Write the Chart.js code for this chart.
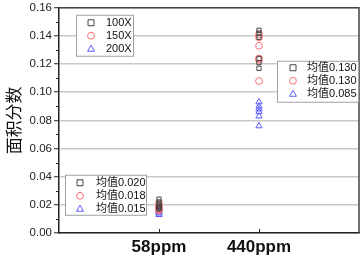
<!DOCTYPE html>
<html><head><meta charset="utf-8">
<script src="https://cdn.jsdelivr.net/npm/chart.js@4/dist/chart.umd.min.js"></script>
<style>html,body{margin:0;padding:0;background:#fff}#wrap{width:364px;height:262px}</style>
</head><body><div id="wrap"><canvas id="c" width="364" height="262"></canvas></div>
<script>
const categories = ['58ppm', '440ppm'];
const seriesNames = ['100X', '150X', '200X'];
const s100 = [[0.024, 0.022, 0.020, 0.019, 0.018, 0.017], [0.144, 0.142, 0.139, 0.124, 0.121, 0.117]];
const s150 = [[0.021, 0.019, 0.018, 0.017, 0.016, 0.017], [0.141, 0.139, 0.133, 0.124, 0.123, 0.108]];
const s200 = [[0.016, 0.015, 0.014, 0.015, 0.013, 0.016], [0.093, 0.090, 0.088, 0.086, 0.083, 0.076]];
const means58 = ['0.020', '0.018', '0.015'];
const means440 = ['0.130', '0.130', '0.085'];
const yTicks = [0, 0.02, 0.04, 0.06, 0.08, 0.10, 0.12, 0.14, 0.16];

const colors = ['#444444', '#ff7070', '#5a5aff'];
const styles = ['rect', 'circle', 'triangle'];
const radii = [3, 3.4, 3.6];

function toPts(s) {
  const out = [];
  s.forEach((vals, i) => vals.forEach(v => out.push({x: i + 1, y: v})));
  return out;
}
const all = [s100, s150, s200];

function drawMarker(ctx, style, color, x, y, r) {
  ctx.save();
  ctx.strokeStyle = color; ctx.lineWidth = 1;
  ctx.beginPath();
  if (style === 'rect') { ctx.rect(x - r, y - r, 2 * r, 2 * r); }
  else if (style === 'circle') { ctx.arc(x, y, r, 0, Math.PI * 2); }
  else { ctx.moveTo(x, y - r); ctx.lineTo(x + r * 0.95, y + r * 0.7); ctx.lineTo(x - r * 0.95, y + r * 0.7); ctx.closePath(); }
  ctx.stroke();
  ctx.restore();
}

function drawLegend(ctx, box, labels) {
  ctx.save();
  ctx.fillStyle = '#fff';
  ctx.strokeStyle = '#a0a0a0'; ctx.lineWidth = 1;
  ctx.fillRect(box.x, box.y, box.w, box.h);
  ctx.strokeRect(box.x + 0.5, box.y + 0.5, box.w, box.h);
  ctx.font = '11px "Liberation Sans", "Noto Sans CJK SC", sans-serif';
  ctx.textBaseline = 'middle'; ctx.textAlign = 'left'; ctx.fillStyle = '#111';
  labels.forEach((t, i) => {
    const yy = box.y + box.rowTop + i * box.rowH;
    drawMarker(ctx, styles[i], colors[i], box.mx, yy, radii[i]);
    ctx.fillText(t, box.tx, yy);
  });
  ctx.restore();
}

const decor = {
  id: 'decor',
  beforeDatasetsDraw(chart) {
    const {ctx, chartArea: a, scales: {x, y}} = chart;
    ctx.save();
    ctx.strokeStyle = '#222'; ctx.lineWidth = 1;
    for (let i = 0; i < yTicks.length - 1; i++) {
      const v = (yTicks[i] + yTicks[i + 1]) / 2;
      const py = Math.round(y.getPixelForValue(v)) + 0.5;
      ctx.beginPath(); ctx.moveTo(a.left - 3, py); ctx.lineTo(a.left, py); ctx.stroke();
    }
    categories.forEach((c, i) => {
      const px = Math.round(x.getPixelForValue(i + 1)) + 0.5;
      ctx.beginPath(); ctx.moveTo(px, a.bottom); ctx.lineTo(px, a.bottom - 4); ctx.stroke();
    });
    ctx.strokeStyle = '#444'; ctx.lineWidth = 1.5;
    ctx.beginPath(); ctx.moveTo(a.left, a.top); ctx.lineTo(a.right, a.top); ctx.lineTo(a.right, a.bottom); ctx.stroke();
    ctx.restore();
  },
  afterDatasetsDraw(chart) {
    const {ctx, chartArea: a} = chart;
    drawLegend(ctx, {x: a.left + 17, y: a.top + 7, w: 57, h: 41, rowTop: 8, rowH: 13, mx: a.left + 32, tx: a.left + 47}, seriesNames);
    drawLegend(ctx, {x: a.left + 218, y: a.top + 53, w: 81, h: 41, rowTop: 7, rowH: 13, mx: a.left + 234, tx: a.left + 248}, means440.map(m => '均值' + m));
    drawLegend(ctx, {x: a.left + 6, y: a.top + 167, w: 81, h: 40, rowTop: 8, rowH: 13, mx: a.left + 21, tx: a.left + 37}, means58.map(m => '均值' + m));
  }
};

new Chart(document.getElementById('c'), {
  type: 'scatter',
  data: {
    datasets: all.map((s, k) => ({
      label: seriesNames[k],
      data: toPts(s),
      pointStyle: styles[k],
      pointRadius: radii[k],
      pointBorderWidth: 1,
      borderColor: colors[k],
      backgroundColor: 'rgba(0,0,0,0)'
    }))
  },
  options: {
    responsive: false,
    animation: false,
    layout: {padding: {left: 0, right: 4, top: 0, bottom: 5}},
    plugins: {legend: {display: false}, tooltip: {enabled: false}},
    scales: {
      x: {
        type: 'linear', min: 0, max: 3,
        afterBuildTicks(s) { s.ticks = categories.map((c, i) => ({value: i + 1})); },
        afterFit(s) { s.height = 24; },
        ticks: {
          callback(v) { return categories[v - 1]; },
          font: {family: '"Liberation Sans", Arial, sans-serif', size: 17, weight: 'bold', lineHeight: 1},
          color: '#111', padding: 6, maxRotation: 0
        },
        grid: {display: false, drawTicks: false},
        border: {display: true, color: '#222', width: 1.5}
      },
      y: {
        min: 0, max: 0.16,
        afterBuildTicks(s) { s.ticks = yTicks.map(v => ({value: v})); },
        afterFit(s) { s.width = 59; },
        ticks: {
          callback(v) { return v.toFixed(2); },
          font: {family: '"Liberation Sans", Arial, sans-serif', size: 11.5, lineHeight: 1},
          color: '#222', padding: 2
        },
        grid: {color: '#c8c8c8', lineWidth: 1.5, tickColor: '#222', tickLength: 5, tickWidth: 1},
        border: {display: true, color: '#222', width: 1.5},
        title: {
          display: true, text: '面积分数',
          font: {family: '"Noto Sans CJK SC", sans-serif', size: 17},
          color: '#111', padding: {top: 3, bottom: 0}
        }
      }
    }
  },
  plugins: [decor]
});
</script>
</body></html>
